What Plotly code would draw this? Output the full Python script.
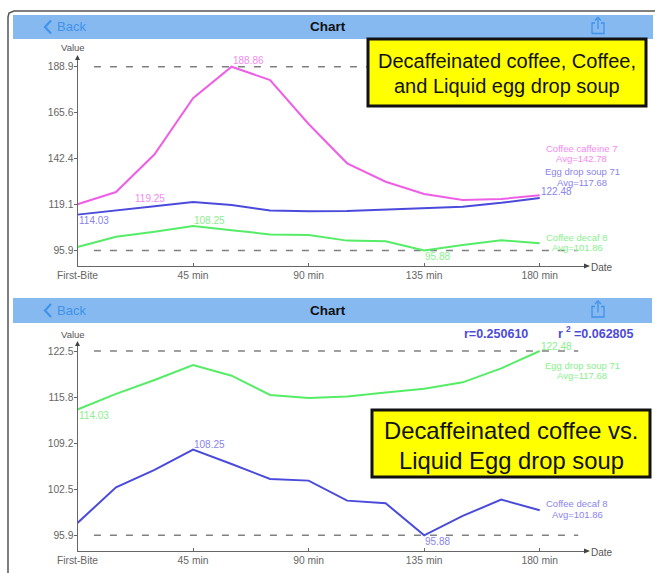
import plotly.graph_objects as go

W, H = 655, 573
FONT = "Liberation Sans"

minutes = [0, 15, 30, 45, 60, 75, 90, 105, 120, 135, 150, 165, 180]
coffee = [119.25, 125.47, 144.54, 172.87, 188.86, 182.12, 159.87, 139.99, 130.68, 124.46, 121.42, 121.93, 123.80]
egg = [114.03, 116.30, 118.30, 120.46, 118.92, 116.13, 115.70, 115.90, 116.50, 117.04, 117.96, 119.98, 122.48]
decaf = [97.66, 102.81, 105.31, 108.25, 106.17, 104.01, 103.77, 100.88, 100.50, 95.88, 98.67, 101.03, 99.49]

x_ticks = [0, 45, 90, 135, 180]
x_labels = ["First-Bite", "45 min", "90 min", "135 min", "180 min"]
y1_ticks = [95.88, 119.12, 142.37, 165.61, 188.86]
y1_labels = ["95.9", "119.1", "142.4", "165.6", "188.9"]
y2_ticks = [95.88, 102.53, 109.18, 115.83, 122.48]
y2_labels = ["95.9", "102.5", "109.2", "115.8", "122.5"]

MAGENTA, BLUE, GREEN = "#ee5fe6", "#4b4bdb", "#55ec66"
L_MAGENTA, L_BLUE, L_GREEN = "#f48af0", "#8a84ec", "#8af08e"
GREY, NAV, IOS = "#666666", "#86b9f0", "#3f93ea"


def px(x):
    return x / W


def py(y):
    return 1 - y / H


def path(points, close=False):
    s = "M" + " L".join(f"{px(x):.5f},{py(y):.5f}" for x, y in points)
    return s + (" Z" if close else "")


fig = go.Figure()
panels = [("x", "y", [(coffee, MAGENTA), (egg, BLUE), (decaf, GREEN)]),
          ("x2", "y2", [(egg, GREEN), (decaf, BLUE)])]
for xa, ya, series in panels:
    for vals, col in series:
        fig.add_trace(go.Scatter(x=minutes, y=vals, mode="lines", xaxis=xa, yaxis=ya,
                                 line=dict(color=col, width=2), showlegend=False, hoverinfo="skip"))

shapes, annos = [], []


def rect(x0, y0, x1, y1, fill, line=None, lw=0):
    shapes.append(dict(type="rect", xref="paper", yref="paper", x0=px(x0), x1=px(x1), y0=py(y1), y1=py(y0),
                       fillcolor=fill, line=dict(color=line or fill, width=lw), layer="below" if line is None else "above"))


def stroke(points, color, w=1, fill=None, close=False, layer="above"):
    shapes.append(dict(type="path", xref="paper", yref="paper", path=path(points, close),
                       line=dict(color=color, width=w), fillcolor=fill or "rgba(0,0,0,0)", layer=layer))


def text(x, y, t, color=GREY, size=9.5, anchor="center"):
    annos.append(dict(xref="paper", yref="paper", x=px(x), y=py(y), text=t, showarrow=False, xanchor=anchor,
                      yanchor="middle", font=dict(family=FONT, size=size, color=color), borderpad=0, borderwidth=0))


def val(xa, ya, x, y, t, color, dy, anchor="left"):
    annos.append(dict(xref=xa, yref=ya, x=x, y=y, text=t, showarrow=False, xanchor=anchor, yanchor="middle", yshift=dy,
                      xshift=-1 if anchor == "left" else 0, font=dict(family=FONT, size=10, color=color)))


# device frame
stroke([(8, 573), (8, 17), (9, 13), (14, 11), (655, 11)], "#555555", 1.5, layer="below")

# nav bars
for top, bottom, right in [(15, 39, 653), (298, 323, 652)]:
    rect(13, top, right, bottom, NAV)
    mid = (top + bottom) / 2
    text(327.5, mid, "<b>Chart</b>", "#111111", 13.5)
    text(57, mid, "Back", IOS, 13, "left")
    stroke([(51, mid - 6.5), (45, mid), (51, mid + 6.5)], IOS, 2.2)
    cx = 598
    stroke([(cx - 3, mid - 4), (cx - 6, mid - 4), (cx - 6, mid + 6.5), (cx + 6, mid + 6.5), (cx + 6, mid - 4), (cx + 3, mid - 4)], IOS, 1.3)
    stroke([(cx, mid + 2), (cx, mid - 9)], IOS, 1.3)
    stroke([(cx - 3, mid - 6.5), (cx, mid - 9.5), (cx + 3, mid - 6.5)], IOS, 1.3)

# axis arrows and names
for ytop, ybase in [(56, 266), (342, 551)]:
    shapes.append(dict(type="path", xref="paper", yref="paper", fillcolor="#444444", line=dict(width=0),
                       path=path([(77.5, ytop - 1), (75, ytop + 4), (80, ytop + 4)], True)))
    shapes.append(dict(type="path", xref="paper", yref="paper", fillcolor="#444444", line=dict(width=0),
                       path=path([(590, ybase), (584, ybase - 2.5), (584, ybase + 2.5)], True)))
    text(73, ytop - 8, "Value", "#555555", 9.5)
    text(602, ybase + 1, "Date", "#555555", 10)

# reference lines at the series extremes
for ya, lo, hi in [("y", min(decaf), max(coffee)), ("y2", min(decaf), max(egg))]:
    xa = "x" if ya == "y" else "x2"
    for v in (lo, hi):
        shapes.append(dict(type="line", xref=xa, yref=ya, x0=6.4, x1=195, y0=v, y1=v,
                           line=dict(color="#808080", width=1.5, dash="7px,9px"), layer="below"))

# value labels, top chart
val("x", "y", 60, max(coffee), "188.86", L_MAGENTA, 6)
val("x", "y", 22, coffee[0], "119.25", L_MAGENTA, 6)
val("x", "y", 0, egg[0], "114.03", L_BLUE, -6)
val("x", "y", 45, decaf[3], "108.25", L_GREEN, 6)
val("x", "y", 135, decaf[9], "95.88", L_GREEN, -6)
val("x", "y", 180, egg[12], "122.48", L_BLUE, 6)
# value labels, bottom chart
val("x2", "y2", 180, egg[12], "122.48", L_GREEN, 4.5)
val("x2", "y2", 0, egg[0], "114.03", L_GREEN, -6)
val("x2", "y2", 45, decaf[3], "108.25", L_BLUE, 5)
val("x2", "y2", 135, decaf[9], "95.88", L_BLUE, -6)

# series names
for cx, y0, y1, a, b, col in [
    (581.7, 148, 158.7, "Coffee caffeine 7", "Avg=142.78", L_MAGENTA),
    (582, 171.7, 182, "Egg drop soup 71", "Avg=117.68", L_BLUE),
    (577, 237.3, 247.7, "Coffee decaf 8", "Avg=101.86", L_GREEN),
    (582, 365, 375.3, "Egg drop soup 71", "Avg=117.68", L_GREEN),
    (577, 503.7, 514.3, "Coffee decaf 8", "Avg=101.86", L_BLUE),
]:
    text(cx, y0, a, col, 9.5)
    text(cx, y1, b, col, 9.5)

# correlation
text(495.5, 334, "<b>r=0.250610</b>", BLUE, 12.5)
text(558, 334, "<b>r</b>", BLUE, 12.5, "left")
text(566, 329, "<b>2</b>", BLUE, 8.5, "left")
text(574, 334, "<b>=0.062805</b>", BLUE, 12.5, "left")

# callouts
rect(368, 39, 646, 106, "#ffff00", "#111111", 3)
text(506.5, 61, "Decaffeinated coffee, Coffee,", "#111111", 20)
text(506.5, 86, "and Liquid egg drop soup", "#111111", 20)
rect(372, 410, 650, 477, "#ffff00", "#111111", 3)
text(511, 430, "Decaffeinated coffee vs.", "#111111", 23.8)
text(511, 460, "Liquid Egg drop soup", "#111111", 23.8)

xax = dict(range=[0, 198.8], tickmode="array", tickvals=x_ticks, ticktext=x_labels, ticks="inside", ticklen=3,
           tickcolor=GREY, showgrid=False, zeroline=False, showline=True, linecolor=GREY, linewidth=1, automargin=False,
           tickfont=dict(family=FONT, size=10.3, color=GREY), domain=[px(77.5), px(588)], ticklabelstandoff=0)
yax = dict(tickmode="array", ticks="outside", ticklen=3, tickcolor=GREY, showgrid=False, zeroline=False, automargin=False,
           showline=True, linecolor=GREY, linewidth=1, tickfont=dict(family=FONT, size=10.3, color=GREY), ticklabelstandoff=-2)

fig.update_layout(
    width=W, height=H, margin=dict(l=0, r=0, t=0, b=0), autosize=False,
    paper_bgcolor="white", plot_bgcolor="rgba(0,0,0,0)", showlegend=False, shapes=shapes, annotations=annos,
    xaxis=dict(xax, anchor="y"),
    xaxis2=dict(xax, anchor="y2"),
    yaxis=dict(yax, range=[88.04, 194.27], tickvals=y1_ticks, ticktext=y1_labels, domain=[py(266), py(56)], anchor="x"),
    yaxis2=dict(yax, range=[93.61, 123.78], tickvals=y2_ticks, ticktext=y2_labels, domain=[py(551), py(342)], anchor="x2"),
)

fig.write_html("out.html", config=dict(displayModeBar=False),
               post_script="document.body.style.margin='0';document.body.style.overflow='hidden';")
